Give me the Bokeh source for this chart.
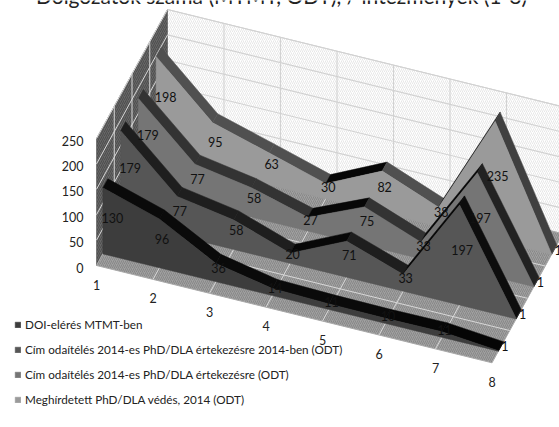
from bokeh.plotting import figure
from bokeh.embed import file_html
from bokeh.resources import INLINE
from bokeh.core.properties import value
from bokeh.models import Legend, LegendItem

title = "Dolgozatok száma (MTMT, ODT), / intézmények (1-8)"
categories = [1, 2, 3, 4, 5, 6, 7, 8]
y_ticks = [0, 50, 100, 150, 200, 250]
series_names = ["DOI-elérés MTMT-ben",
                "Cím odaítélés 2014-es PhD/DLA értekezésre 2014-ben (ODT)",
                "Cím odaítélés 2014-es PhD/DLA értekezésre (ODT)",
                "Meghírdetett PhD/DLA védés, 2014 (ODT)"]
doi = [130, 96, 36, 14, 11, 10, 11, 1]
award_2014 = [179, 77, 58, 20, 71, 33, 197, 1]
award_all = [179, 77, 58, 27, 75, 33, 197, 1]
announced = [198, 95, 63, 30, 82, 38, 235, 1]
series = [doi, award_2014, award_all, announced]

front_colors = ["#3d3d3d", "#565656", "#757575", "#9a9a9a"]
fall_colors = ["#0a0a0a", "#1e1e1e", "#333333", "#505050"]
last_fall_colors = ["#050505", "#0d0d0d", "#222222", "#404040"]
rise_color = "#070707"
first_label_dy = [2, -4, -4, -5]

W, H = 559, 427
ORIGIN_X, ORIGIN_Y = 96.0, 265.0
CAT_DX, CAT_DY = 56.5, 13.9
DEPTH_DX, DEPTH_DY = 71.0, -129.0
VAL_DY = -0.508
HALF = 0.035


def P(c, v, d):
    return (ORIGIN_X + (c - 1) * CAT_DX + d * DEPTH_DX,
            ORIGIN_Y + (c - 1) * CAT_DY + d * DEPTH_DY + v * VAL_DY)


def poly(points):
    return [q[0] for q in points], [q[1] for q in points]


p = figure(width=W, height=H, x_range=(0, W), y_range=(H, 0),
           output_backend="svg", toolbar_location=None, min_border=0,
           outline_line_color=None, background_fill_color="white")
p.xaxis.visible = False
p.yaxis.visible = False
p.xgrid.visible = False
p.ygrid.visible = False

c0, c1, vmax = categories[0], categories[-1] + 0, y_ticks[-1]
hatch = dict(hatch_pattern="right_diagonal_line", hatch_scale=4, hatch_weight=0.7)

# walls and floor
x, y = poly([P(c0, 0, 1), P(c1, 0, 1), P(c1, vmax, 1), P(c0, vmax, 1)])
p.patch(x, y, fill_color="#ffffff", line_color="#cfcfcf", line_width=1,
        hatch_color="#dcdcdc", **hatch)
x, y = poly([P(c0, 0, 0), P(c0, 0, 1), P(c0, vmax, 1), P(c0, vmax, 0)])
p.patch(x, y, fill_color="#666666", line_color="#777777", line_width=1,
        hatch_color="#444444", **hatch)
x, y = poly([P(c0, 0, 0), P(c1, 0, 0), P(c1, 0, 1), P(c0, 0, 1)])
p.patch(x, y, fill_color="#a0a0a0", line_color="#aaaaaa", line_width=1,
        hatch_color="#7d7d7d", **hatch)

# grid lines
wx, wy = [], []
for t in y_ticks[1:]:
    a, b = P(c1, t, 1), P(c0, t, 1)
    wx.append([a[0], b[0]]); wy.append([a[1], b[1]])
for c in categories[1:-1]:
    a, b = P(c, 0, 1), P(c, vmax, 1)
    wx.append([a[0], b[0]]); wy.append([a[1], b[1]])
p.multi_line(wx, wy, line_color="#d2d2d2", line_width=1.1)

lx, ly = [], []
for t in y_ticks[1:]:
    a, e = P(c0, t, 1), P(c0, t, 0)
    lx.append([a[0], e[0]]); ly.append([a[1], e[1]])
for d in (0.25, 0.5, 0.75):
    a, b = P(c0, 0, d), P(c0, vmax, d)
    lx.append([a[0], b[0]]); ly.append([a[1], b[1]])
    a, b = P(c0, 0, d), P(c1, 0, d)
    lx.append([a[0], b[0]]); ly.append([a[1], b[1]])
for c in categories[1:-1]:
    a, b = P(c, 0, 0), P(c, 0, 1)
    lx.append([a[0], b[0]]); ly.append([a[1], b[1]])
p.multi_line(lx, ly, line_color="#d8d8d8", line_width=1)

# series slabs, back to front
fronts = {}
n = len(categories)
for i in [3, 2, 1, 0]:
    vals = series[i]
    dc = 0.125 + 0.25 * i
    df, db = dc - HALF, dc + HALF
    xs, ys, cols = [], [], []
    for k in range(n - 1):
        ca, cb, va, vb = categories[k], categories[k + 1], vals[k], vals[k + 1]
        qx, qy = poly([P(ca, va, df), P(cb, vb, df), P(cb, vb, db), P(ca, va, db)])
        xs.append(qx); ys.append(qy)
        if vb > va:
            cols.append(rise_color)
        else:
            cols.append(last_fall_colors[i] if k == n - 2 else fall_colors[i])
    qx, qy = poly([P(c1, vals[-1], df), P(c1, 0, df), P(c1, 0, db), P(c1, vals[-1], db)])
    xs.append(qx); ys.append(qy); cols.append(fall_colors[i])
    p.patches(xs, ys, fill_color=cols, line_color=cols, line_width=0.5)
    outline = [P(c, v, df) for c, v in zip(categories, vals)] + [P(c1, 0, df), P(c0, 0, df)]
    fx, fy = poly(outline)
    fronts[i] = p.patch(fx, fy, fill_color=front_colors[i], line_color=front_colors[i], line_width=0.5)

# data labels (at half height of each point, on the series' depth centre)
font = value("Lato")
NUM_SIZE = "12.5px"
for i in [3, 2, 1, 0]:
    vals = series[i]
    dc = 0.125 + 0.25 * i
    tx, ty, tt, off, offy = [], [], [], [], []
    for k, c in enumerate(categories):
        q = P(c, vals[k] / 2, dc)
        tx.append(q[0]); ty.append(q[1]); tt.append(str(vals[k]))
        off.append(7 if k == 0 else (4 if k == n - 1 else 0))
        offy.append(first_label_dy[i] if k == 0 else 0)
    p.text(tx, ty, text=tt, x_offset=off, y_offset=offy, text_font=font, text_font_size=NUM_SIZE,
           text_color="#111111", text_align="center", text_baseline="middle")

# axis labels
tx = [P(c0, t, 0)[0] - 13 for t in y_ticks]
ty = [P(c0, t, 0)[1] + 2 for t in y_ticks]
p.text(tx, ty, text=[str(t) for t in y_ticks], text_font=font, text_font_size=NUM_SIZE,
       text_color="#222222", text_align="right", text_baseline="middle")
tx = [P(c, 0, 0)[0] for c in categories]
ty = [P(c, 0, 0)[1] + 19 for c in categories]
p.text(tx, ty, text=[str(c) for c in categories], text_font=font, text_font_size=NUM_SIZE,
       text_color="#222222", text_align="center", text_baseline="middle")

# title, cut by the top edge as in the reference
p.text([281], [-5], text=[title], text_font=font, text_font_size="21px",
       text_color="#222222", text_align="center", text_baseline="alphabetic")

legend = Legend(items=[LegendItem(label=series_names[i], renderers=[fronts[i]]) for i in range(4)],
                location=(14, 18), orientation="vertical", padding=0, margin=0, spacing=5,
                glyph_width=7, glyph_height=7, label_standoff=4, label_height=20,
                label_text_font="Lato", label_text_font_size="11.7px", label_text_color="#222222",
                background_fill_alpha=0, border_line_color=None, click_policy="none")
p.add_layout(legend, "center")

open("out.html", "w").write(file_html(p, INLINE))
